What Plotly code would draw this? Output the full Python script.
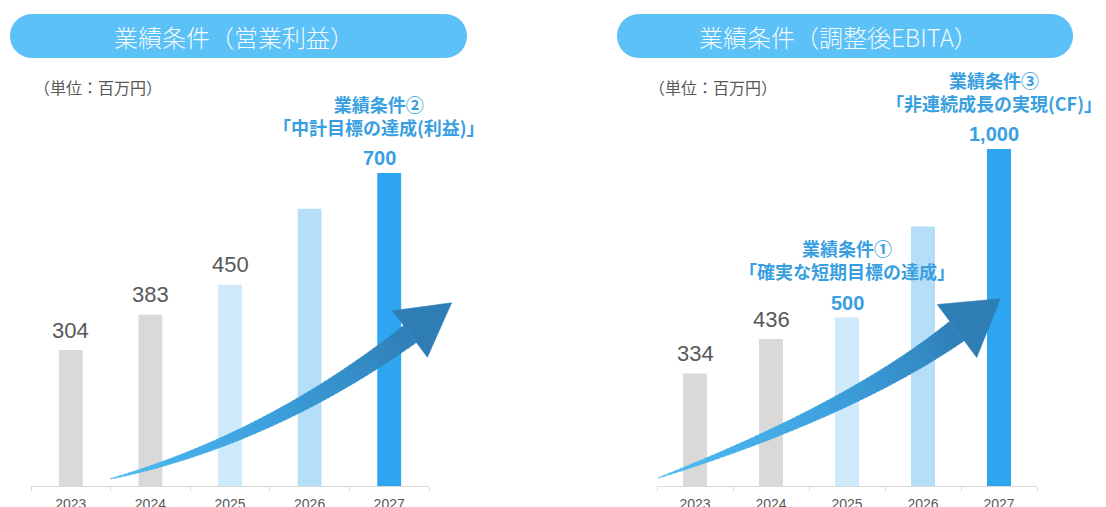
import math
import plotly.graph_objects as go

# ---- data -------------------------------------------------------------
years = ["2023", "2024", "2025", "2026", "2027"]
op_profit = [304, 383, 450, 620, 700]        # 営業利益 (百万円)
ebita = [334, 436, 500, 770, 1000]           # 調整後EBITA (百万円)

# which bars carry a plain value label
op_profit_labeled = [True, True, True, False, False]
ebita_labeled = [True, True, False, False, False]

# milestone captions keyed by bar index
op_profit_milestones = {4: ("業績条件②", "「中計目標の達成(利益)」")}
ebita_milestones = {2: ("業績条件①", "「確実な短期目標の達成」"),
                    4: ("業績条件③", "「非連続成長の実現(CF)」")}

left_title = "業績条件（営業利益）"
right_title = "業績条件（調整後EBITA）"
unit_text = "（単位：百万円）"

# ---- styling ----------------------------------------------------------
W, H = 1106, 507
bar_colors = ["#d9d9d9", "#d9d9d9", "#cfeafb", "#b5dff9", "#2ea5f0"]
pill_color = "#5cc1f7"
accent = "#3a9fe0"
gray_text = "#595959"
jp_font = "Noto Sans CJK JP"
num_font = "Liberation Sans"


def px(x):
    return x / W


def py(y):
    return 1 - y / H


fig = go.Figure()
fig.add_trace(go.Bar(x=years, y=op_profit, marker_color=bar_colors,
                     marker_line_width=0, width=0.30,
                     xaxis="x", yaxis="y", hoverinfo="skip"))
fig.add_trace(go.Bar(x=years, y=ebita, marker_color=bar_colors,
                     marker_line_width=0, width=0.316,
                     xaxis="x2", yaxis="y2", hoverinfo="skip"))

xaxis_style = dict(type="category", showgrid=False, zeroline=False,
                   showline=True, linecolor="#d9d9d9", linewidth=1,
                   ticks="outside", ticklen=4, tickcolor="#d9d9d9",
                   tickson="boundaries", fixedrange=True, tickangle=0,
                   ticklabelstandoff=5, automargin=False,
                   autorange=False, range=[-0.5, len(years) - 0.5],
                   tickfont=dict(family=num_font, size=14, color=gray_text))
yaxis_style = dict(visible=False, showgrid=False, zeroline=False,
                   fixedrange=True, autorange=False, automargin=False)

plot_bottom = 486  # pixel row of the baseline
fig.update_layout(
    xaxis=dict(domain=[px(31), px(429)], anchor="y", **xaxis_style),
    xaxis2=dict(domain=[px(657), px(1037)], anchor="y2", **xaxis_style),
    yaxis=dict(domain=[py(plot_bottom), 1], range=[0, plot_bottom / 0.447],
               anchor="x", **yaxis_style),
    yaxis2=dict(domain=[py(plot_bottom), 1], range=[0, plot_bottom / 0.337],
                anchor="x2", **yaxis_style),
)

annotations = []
shapes = []


# ---- value labels and milestone captions --------------------------------
def add_labels(values, labeled, milestones, xref, yref, xshifts):
    for i, v in enumerate(values):
        if labeled[i]:
            annotations.append(dict(
                x=i, y=v, xref=xref, yref=yref, text=f"{v:,}",
                showarrow=False, yanchor="middle", yshift=20,
                font=dict(family=num_font, size=22, color=gray_text)))
        if i in milestones:
            line1, line2 = milestones[i]
            xs = xshifts.get(i, 0)
            annotations.append(dict(
                x=i, y=v, xref=xref, yref=yref, text=f"<b>{v:,}</b>",
                showarrow=False, yanchor="middle", yshift=15, xshift=xs,
                font=dict(family=num_font, size=20, color=accent)))
            annotations.append(dict(
                x=i, y=v, xref=xref, yref=yref,
                text=f"<b>{line1}</b><br><b>{line2}</b>",
                showarrow=False, yanchor="middle", yshift=58, xshift=xs,
                align="center",
                font=dict(family=jp_font, size=18, color=accent)))


add_labels(op_profit, op_profit_labeled, op_profit_milestones, "x", "y", {4: -10})
add_labels(ebita, ebita_labeled, ebita_milestones, "x2", "y2", {4: -5})


# ---- title pills --------------------------------------------------------
def pill_path(x0, x1, y0, y1, n=24):
    r = (y1 - y0) / 2
    cy = (y0 + y1) / 2
    pts = []
    for k in range(n + 1):  # right cap, top -> bottom
        a = -math.pi / 2 + math.pi * k / n
        pts.append((x1 - r + r * math.cos(a), cy + r * math.sin(a)))
    for k in range(n + 1):  # left cap, bottom -> top
        a = math.pi / 2 + math.pi * k / n
        pts.append((x0 + r + r * math.cos(a), cy + r * math.sin(a)))
    return "M " + " L ".join(f"{px(x):.5f},{py(y):.5f}" for x, y in pts) + " Z"


for (x0, x1, tx, title) in [(10, 467, 234, left_title), (617, 1073, 838, right_title)]:
    shapes.append(dict(type="path", xref="paper", yref="paper",
                       path=pill_path(x0, x1, 14, 58), fillcolor=pill_color,
                       line=dict(width=0), layer="below"))
    annotations.append(dict(x=px(tx), y=py(36), xref="paper", yref="paper",
                            text=title, showarrow=False, xanchor="center",
                            yanchor="middle",
                            font=dict(family=jp_font, size=24, color="#f2faff",
                                      weight=300)))

for ux in (32, 647):
    annotations.append(dict(x=px(ux), y=py(87), xref="paper", yref="paper",
                            text=unit_text, showarrow=False, xanchor="left",
                            yanchor="middle",
                            font=dict(family=jp_font, size=16, color=gray_text)))


# ---- curved growth arrows ----------------------------------------------
def hex_to_rgb(h):
    h = h.lstrip("#")
    return tuple(int(h[i:i + 2], 16) for i in (0, 2, 4))


def blend(stops, t):
    for (t0, c0), (t1, c1) in zip(stops, stops[1:]):
        if t <= t1:
            f = (t - t0) / (t1 - t0) if t1 > t0 else 0
            a, b = hex_to_rgb(c0), hex_to_rgb(c1)
            return "rgb(%d,%d,%d)" % tuple(round(a[k] + (b[k] - a[k]) * f) for k in range(3))
    return stops[-1][1]


def growth_arrow(p0, c, p2, half_w, head_len, head_half, stops, head_color, n=70):
    def point(t):
        return ((1 - t) ** 2 * p0[0] + 2 * (1 - t) * t * c[0] + t * t * p2[0],
                (1 - t) ** 2 * p0[1] + 2 * (1 - t) * t * c[1] + t * t * p2[1])

    def normal(t):
        dx = 2 * (1 - t) * (c[0] - p0[0]) + 2 * t * (p2[0] - c[0])
        dy = 2 * (1 - t) * (c[1] - p0[1]) + 2 * t * (p2[1] - c[1])
        L = math.hypot(dx, dy)
        return dx / L, dy / L, -dy / L, dx / L

    def edges(t):
        x, y = point(t)
        _, _, nx, ny = normal(t)
        w = half_w * t ** 0.85
        return (x + nx * w, y + ny * w), (x - nx * w, y - ny * w)

    out = []
    for i in range(n):
        t0 = i / n
        t1 = min(1.0, (i + 1) / n + 0.006)
        a0, b0 = edges(t0)
        a1, b1 = edges(t1)
        col = blend(stops, (t0 + t1) / 2)
        path = "M " + " L ".join(f"{px(x):.5f},{py(y):.5f}" for x, y in (a0, a1, b1, b0)) + " Z"
        out.append(dict(type="path", xref="paper", yref="paper", path=path,
                        fillcolor=col, line=dict(color=col, width=0.6),
                        layer="above"))
    tx, ty, nx, ny = normal(1.0)
    bx, by = p2
    tip = (bx + tx * head_len, by + ty * head_len)
    c1 = (bx + nx * head_half, by + ny * head_half)
    c2 = (bx - nx * head_half, by - ny * head_half)
    path = "M " + " L ".join(f"{px(x):.5f},{py(y):.5f}" for x, y in (c1, tip, c2)) + " Z"
    out.append(dict(type="path", xref="paper", yref="paper", path=path,
                    fillcolor=head_color, line=dict(color=head_color, width=0.6),
                    layer="above"))
    return out


arrow_stops = [(0.0, "#4fbcf4"), (0.55, "#3b9edb"), (1.0, "#3080b8")]
shapes += growth_arrow((110, 479), (270, 439), (410, 334), 10.5, 52, 29,
                       arrow_stops, "#2f7db5")
shapes += growth_arrow((658, 478), (851, 410), (957, 331), 12, 54, 33,
                       arrow_stops, "#2f7db5")

fig.update_layout(
    width=W, height=H, autosize=False,
    margin=dict(l=0, r=0, t=0, b=0, pad=0, autoexpand=False),
    paper_bgcolor="white", plot_bgcolor="white",
    showlegend=False, hovermode=False,
    annotations=annotations, shapes=shapes,
)

fig.write_html("out.html", config={"displayModeBar": False, "staticPlot": True})
